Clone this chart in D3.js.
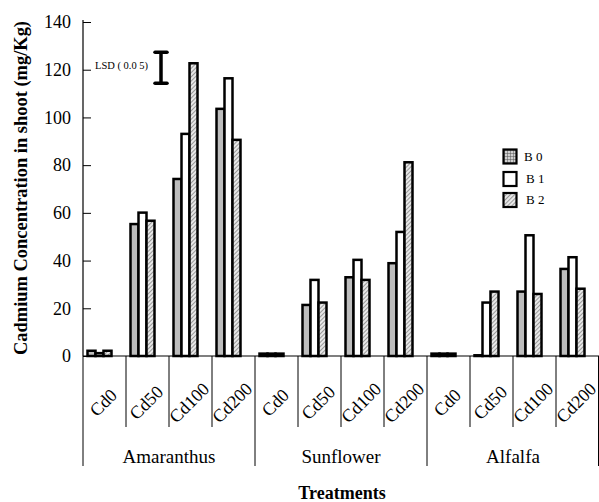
<!DOCTYPE html>
<html>
<head>
<meta charset="utf-8">
<script src="https://cdn.jsdelivr.net/npm/d3@7"></script>
<style>
  html, body { margin: 0; padding: 0; background: #fff; }
  svg { display: block; }
  text { font-family: "Liberation Serif", "Times New Roman", serif; fill: #000; }
</style>
</head>
<body>
<svg id="chart" width="599" height="502"></svg>
<script>
// Cadmium in shoot (mg/Kg) per plant and Cd treatment, for three B levels
const groups = ["Amaranthus", "Sunflower", "Alfalfa"];
const treatments = ["Cd0", "Cd50", "Cd100", "Cd200"];
const seriesNames = ["B0", "B1", "B2"];
const valuesB0 = [2.2, 55.3, 74.2, 103.6, 1.0, 21.4, 33.0, 38.9, 1.0, 0.3, 27.0, 36.5];
const valuesB1 = [1.2, 60.1, 93.1, 116.4, 1.0, 31.9, 40.3, 52.0, 1.0, 22.4, 50.6, 41.4];
const valuesB2 = [2.2, 56.7, 122.7, 90.6, 1.0, 22.4, 31.9, 81.2, 1.0, 27.0, 26.0, 28.2];
const yTicks = [0, 20, 40, 60, 80, 100, 120, 140];
const lsdRange = [114.3, 127.3];

const series = [valuesB0, valuesB1, valuesB2];
const categories = [];
groups.forEach(g => treatments.forEach(t => categories.push({ key: g + "|" + t, group: g, label: t })));

const svg = d3.select("#chart");
const plotLeft = 83, plotRight = 599, plotBottom = 356, plotTop = 22;
const serif = "Liberation Serif, Times New Roman, serif";

const x = d3.scaleBand().domain(categories.map(c => c.key)).range([plotLeft, plotRight]).padding(0);
const xs = d3.scaleBand().domain(seriesNames).range([4.5, 28.5]).padding(0);
const y = d3.scaleLinear().domain([0, 140]).range([plotBottom, plotTop]);

// fills
const defs = svg.append("defs");
const hatch = defs.append("pattern").attr("id", "hatchB2").attr("patternUnits", "userSpaceOnUse")
  .attr("width", 3).attr("height", 3).attr("patternTransform", "rotate(45)");
hatch.append("rect").attr("width", 3).attr("height", 3).attr("fill", "#e8e8e8");
hatch.append("line").attr("x1", 0).attr("y1", 0).attr("x2", 0).attr("y2", 3)
  .attr("stroke", "#777").attr("stroke-width", 1.4);
const grid = defs.append("pattern").attr("id", "gridB0").attr("patternUnits", "userSpaceOnUse")
  .attr("width", 3).attr("height", 3);
grid.append("rect").attr("width", 3).attr("height", 3).attr("fill", "#d0d0d0");
grid.append("path").attr("d", "M0,0H3M0,0V3").attr("stroke", "#555").attr("stroke-width", 1);

const barFill = ["#bdbdbd", "#ffffff", "url(#hatchB2)"];
const legendFill = ["url(#gridB0)", "#ffffff", "url(#hatchB2)"];

// y axis with inward ticks
const yAxis = svg.append("g").attr("transform", `translate(${plotLeft},0)`)
  .call(d3.axisLeft(y).tickValues(yTicks).tickSizeInner(-8).tickSizeOuter(0).tickPadding(12));
yAxis.attr("font-family", serif);
yAxis.select(".domain").attr("stroke", "#000").attr("stroke-width", 1.2).attr("d", `M0,${plotTop - 2}V${plotBottom}`);
yAxis.selectAll(".tick line").attr("stroke", "#000").attr("stroke-width", 1);
yAxis.selectAll(".tick text").attr("font-family", serif).attr("font-size", 18).attr("fill", "#000");

// bars
const barG = svg.append("g");
series.forEach((vals, si) => {
  barG.selectAll(null).data(categories).enter().append("rect")
    .attr("x", c => x(c.key) + xs(seriesNames[si]))
    .attr("width", xs.bandwidth())
    .attr("y", (c, i) => y(vals[i]))
    .attr("height", (c, i) => plotBottom - y(vals[i]))
    .attr("fill", barFill[si])
    .attr("stroke", "#000").attr("stroke-width", 2.5);
});

// x axis baseline
svg.append("line").attr("x1", plotLeft).attr("x2", plotRight).attr("y1", plotBottom).attr("y2", plotBottom)
  .attr("stroke", "#000").attr("stroke-width", 1.2);

// category dividers
const boundaries = categories.map(c => x(c.key)).concat([plotRight - 0.5]);
boundaries.forEach((bx, i) => {
  const isGroup = i % treatments.length === 0;
  svg.append("line").attr("x1", bx).attr("x2", bx).attr("y1", plotBottom).attr("y2", isGroup ? 466 : 427)
    .attr("stroke", "#000").attr("stroke-width", 1);
});

// rotated treatment labels
svg.append("g").selectAll("text").data(categories).enter().append("text")
  .attr("transform", c => `translate(${x(c.key) + x.bandwidth() / 2 + 3},${407}) rotate(-45)`)
  .attr("text-anchor", "middle").attr("font-size", 18).attr("font-family", serif)
  .text(c => c.label);

// group labels
groups.forEach(g => {
  const x0 = x(g + "|" + treatments[0]);
  const x1 = x(g + "|" + treatments[treatments.length - 1]) + x.bandwidth();
  svg.append("text").attr("x", (x0 + x1) / 2).attr("y", 463).attr("font-family", serif)
    .attr("text-anchor", "middle").attr("font-size", 19).text(g);
});

// axis titles
svg.append("text").attr("x", 342).attr("y", 499).attr("text-anchor", "middle").attr("font-family", serif)
  .attr("font-size", 18).attr("font-weight", "bold").text("Treatments");
svg.append("text").attr("transform", `translate(27,${188}) rotate(-90)`).attr("text-anchor", "middle")
  .attr("font-family", serif).attr("font-size", 19).attr("font-weight", "bold")
  .attr("textLength", 334).attr("lengthAdjust", "spacingAndGlyphs")
  .text("Cadmium Concentration in shoot (mg/Kg)");

// LSD bar
const lsdX = 161;
svg.append("line").attr("x1", lsdX).attr("x2", lsdX).attr("y1", y(lsdRange[0])).attr("y2", y(lsdRange[1]))
  .attr("stroke", "#000").attr("stroke-width", 3.5);
lsdRange.forEach(v => {
  svg.append("line").attr("x1", lsdX - 6).attr("x2", lsdX + 6).attr("y1", y(v)).attr("y2", y(v))
    .attr("stroke", "#000").attr("stroke-width", 3.5).attr("stroke-linecap", "round");
});
svg.append("text").attr("x", 95).attr("y", 69).attr("font-family", serif).attr("font-size", 10.5)
  .text("LSD ( 0.0 5)");

// legend
const legendY = [149.5, 172, 193];
seriesNames.forEach((s, i) => {
  svg.append("rect").attr("x", 503.5).attr("y", legendY[i]).attr("width", 13).attr("height", 14)
    .attr("fill", legendFill[i]).attr("stroke", "#000").attr("stroke-width", 2.2);
  svg.append("text").attr("x", i === 0 ? 524 : 526).attr("y", legendY[i] + 11).attr("font-family", serif)
    .attr("font-size", 13).text(s.charAt(0) + " " + s.charAt(1));
});
</script>
</body>
</html>
